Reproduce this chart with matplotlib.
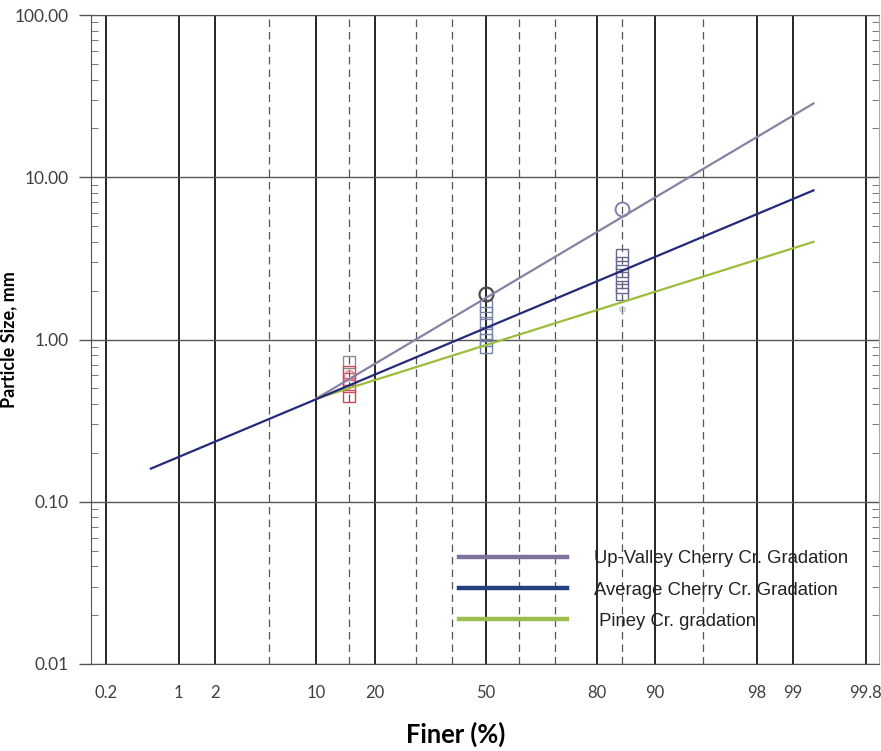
import numpy as np
import matplotlib
matplotlib.use("Agg")
import matplotlib.pyplot as plt
from matplotlib.ticker import FixedLocator, NullFormatter, LogLocator
from statistics import NormalDist

# gradation lines (percent finer, particle size mm)
avg_pct = [0.56, 99.35]
avg_d = [0.16, 8.3]
upv_pct = [10, 99.35]
upv_d = [0.433, 28.5]
piney_pct = [10, 99.35]
piney_d = [0.433, 4.0]

# measured samples
d15_pct = 15
d15_gray = [0.73]
d15_red = [0.63, 0.57, 0.52, 0.45]
d15_circle = [0.60]

d50_pct = 50
d50_circle = [1.92]
d50_sq = [1.62, 1.45, 1.27, 1.10, 0.99, 0.905]

d85_pct = 85
d85_circle = [6.4]
d85_sq = [3.34, 2.98, 2.66, 2.38, 2.12, 1.92]
d85_faint = [1.55]

major_pct = [0.2, 1, 2, 10, 20, 50, 80, 90, 98, 99, 99.8]
major_labels = ['0.2', '1', '2', '10', '20', '50', '80', '90', '98', '99', '99.8']
dashed_pct = [5, 15, 30, 40, 60, 70, 85, 95]
y_ticks = [0.01, 0.1, 1, 10, 100]
y_labels = ['0.01', '0.10', '1.00', '10.00', '100.00']

nd = NormalDist()
_ppf = np.vectorize(lambda p: nd.inv_cdf(min(max(p / 100.0, 1e-9), 1 - 1e-9)), otypes=[float])
_cdf = np.vectorize(lambda z: nd.cdf(z) * 100.0, otypes=[float])


def fwd(p):
    return _ppf(np.asarray(p, dtype=float))


def inv(z):
    return _cdf(np.asarray(z, dtype=float))


fig = plt.figure(figsize=(8.81, 7.51), dpi=100)
ax = fig.add_axes([91 / 881, 87 / 751, 788 / 881, 649 / 751])
ax.set_xscale('function', functions=(fwd, inv))
ax.set_yscale('log')
ax.set_xlim(0.1395, 99.856)
ax.set_ylim(0.01, 100)

# grid
for p in major_pct:
    ax.axvline(p, color='black', lw=1.2, zorder=1)
for p in dashed_pct:
    ax.axvline(p, color='#555555', lw=0.9, ls=(0, (6, 4)), zorder=1)
for y in y_ticks:
    ax.axhline(y, color='#555555', lw=1.0, zorder=1)

# sample markers
ms = 9
ax.plot([d15_pct] * len(d15_gray), d15_gray, 's', ms=ms, mfc='none', mec='#8c8c8c', mew=1.0, zorder=2)
ax.plot([d15_pct] * len(d15_red), d15_red, 's', ms=ms, mfc='none', mec='#d04858', mew=1.0, zorder=2)
ax.plot([d15_pct] * len(d15_circle), d15_circle, 'o', ms=7, mfc='none', mec='#e08898', mew=1.0, zorder=2)
ax.plot([d50_pct] * len(d50_sq), d50_sq, 's', ms=ms, mfc='none', mec='#7684a8', mew=1.0, zorder=2)
ax.plot([d50_pct] * len(d50_circle), d50_circle, 'o', ms=10, mfc='none', mec='#4a4a4a', mew=1.6, zorder=2)
ax.plot([d85_pct] * len(d85_sq), d85_sq, 's', ms=ms, mfc='none', mec='#66688e', mew=1.0, zorder=2)
ax.plot([d85_pct] * len(d85_circle), d85_circle, 'o', ms=10, mfc='none', mec='#8a7cac', mew=1.4, zorder=2)
ax.plot([d85_pct] * len(d85_faint), d85_faint, 'o', ms=4, mfc='none', mec='#b8c0d8', mew=0.8, zorder=2)

# gradation lines
ax.plot(upv_pct, upv_d, color='#8882a2', lw=1.6, zorder=3, label='Up-Valley Cherry Cr. Gradation')
ax.plot(avg_pct, avg_d, color='#232a7a', lw=1.6, zorder=4, label='Average Cherry Cr. Gradation')
ax.plot(piney_pct, piney_d, color='#9cbc3c', lw=1.6, zorder=3, label=' Piney Cr. gradation')

leg = ax.legend(loc='center left', bbox_to_anchor=(0.467, 0.114), frameon=False,
                prop={'family': 'Liberation Sans', 'size': 13.3},
                handlelength=5.85, handletextpad=1.45, labelspacing=0.77,
                borderpad=0, borderaxespad=0)
leg_cols = ['#8070a0', '#24407e', '#9cbc4c']
for ln, c in zip(leg.get_lines(), leg_cols):
    ln.set_linewidth(3.2)
    ln.set_color(c)
for t in leg.get_texts():
    t.set_color('#222222')

# ticks
ax.xaxis.set_major_locator(FixedLocator(major_pct))
ax.set_xticklabels(major_labels)
ax.xaxis.set_minor_locator(FixedLocator([]))
ax.tick_params(axis='x', length=0, pad=15, labelsize=12, labelcolor='#404040')
for t in ax.get_xticklabels():
    t.set_family('Lato')

ax.set_yticks(y_ticks)
ax.set_yticklabels(y_labels)
ax.yaxis.set_minor_locator(LogLocator(base=10, subs=np.arange(2, 10)))
ax.yaxis.set_minor_formatter(NullFormatter())
ax.tick_params(axis='y', which='major', direction='out', length=9, width=1.0,
               color='#555555', pad=7, labelsize=12.5, labelcolor='#404040')
ax.tick_params(axis='y', which='minor', direction='in', length=5, width=0.7,
               color='#777777', right=True)
for t in ax.get_yticklabels():
    t.set_family('Lato')

for side in ['left', 'bottom', 'top']:
    ax.spines[side].set_color('#555555')
ax.spines['right'].set_color('#aaaaaa')

ax.set_ylabel('Particle Size, mm', family='Lato', weight='bold', size=13, color='black')
ax.yaxis.set_label_coords(-0.094, 0.5)
ax.set_xlabel('Finer (%)', family='Lato', weight='bold', size=18.4, color='black', va='center')
ax.xaxis.set_label_coords(0.463, -0.109)

fig.savefig('out.png', dpi=100)
